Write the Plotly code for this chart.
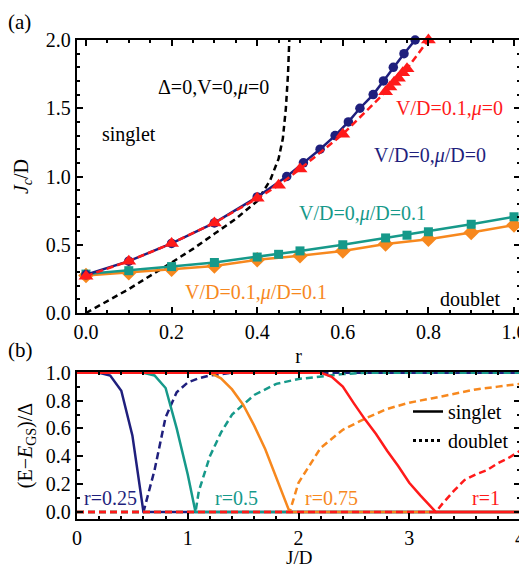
import plotly.graph_objects as go

# ---------------- Panel (a) data ----------------
r_navy = [0.0, 0.1, 0.2, 0.3, 0.4, 0.469, 0.508, 0.547, 0.582, 0.613, 0.640, 0.671, 0.695, 0.718, 0.743, 0.769]
j_navy = [0.28, 0.38, 0.51, 0.66, 0.85, 1.0, 1.1, 1.2, 1.3, 1.4, 1.5, 1.6, 1.7, 1.8, 1.9, 2.0]

r_red = [0.0, 0.1, 0.2, 0.3, 0.4, 0.45, 0.5, 0.6, 0.70, 0.71, 0.72, 0.73, 0.74, 0.75, 0.8]
j_red = [0.27, 0.38, 0.51, 0.66, 0.84, 0.935, 1.055, 1.31, 1.62, 1.655, 1.69, 1.72, 1.76, 1.79, 2.0]

r_teal = [0.0, 0.1, 0.2, 0.3, 0.4, 0.45, 0.5, 0.6, 0.7, 0.75, 0.8, 0.9, 1.0]
j_teal = [0.285, 0.31, 0.34, 0.37, 0.41, 0.43, 0.455, 0.5, 0.55, 0.57, 0.595, 0.65, 0.705]

r_orange = [0.0, 0.1, 0.2, 0.3, 0.4, 0.5, 0.6, 0.7, 0.8, 0.9, 1.0]
j_orange = [0.275, 0.295, 0.32, 0.345, 0.39, 0.42, 0.455, 0.505, 0.54, 0.59, 0.645]

r_black = [0.0, 0.1, 0.2, 0.25, 0.3, 0.35, 0.4, 0.43, 0.45, 0.46, 0.467, 0.472, 0.475]
j_black = [0.0, 0.175, 0.37, 0.47, 0.58, 0.69, 0.82, 0.97, 1.13, 1.28, 1.5, 1.75, 2.0]

# ---------------- Panel (b) data ----------------
jb_navy_s = [0, 0.1, 0.2, 0.3, 0.4, 0.5, 0.6, 4.0]
eb_navy_s = [1, 1, 1, 0.98, 0.87, 0.55, 0, 0]
jb_navy_d = [0, 0.6, 0.7, 0.8, 0.9, 1.0, 1.1, 1.2, 1.4, 4.0]
eb_navy_d = [0, 0, 0.3, 0.68, 0.86, 0.93, 0.96, 0.98, 1.0, 1.0]

jb_teal_s = [0, 0.6, 0.7, 0.8, 0.9, 1.0, 1.07, 4.0]
eb_teal_s = [1, 1, 0.98, 0.89, 0.6, 0.27, 0, 0]
jb_teal_d = [0, 1.07, 1.1, 1.2, 1.3, 1.4, 1.6, 1.8, 2.0, 2.2, 2.4, 2.6, 4.0]
eb_teal_d = [0, 0, 0.15, 0.4, 0.57, 0.7, 0.84, 0.92, 0.955, 0.975, 0.99, 1.0, 1.0]

jb_orange_s = [0, 1.2, 1.3, 1.4, 1.5, 1.6, 1.7, 1.8, 1.92, 4.0]
eb_orange_s = [1, 1, 0.96, 0.88, 0.77, 0.62, 0.45, 0.25, 0, 0]
jb_orange_d = [0, 1.92, 2.0, 2.2, 2.4, 2.6, 2.8, 3.0, 3.2, 3.4, 3.6, 3.8, 4.0]
eb_orange_d = [0, 0, 0.21, 0.46, 0.59, 0.67, 0.74, 0.785, 0.815, 0.85, 0.88, 0.9, 0.92]

jb_red_s = [0, 2.2, 2.3, 2.4, 2.5, 2.6, 2.7, 2.8, 2.9, 3.0, 3.1, 3.24, 4.0]
eb_red_s = [1, 1, 0.97, 0.9, 0.78, 0.665, 0.56, 0.44, 0.33, 0.21, 0.12, 0, 0]
jb_red_d = [0, 3.24, 3.3, 3.4, 3.5, 3.6, 3.7, 3.8, 3.9, 4.0]
eb_red_d = [0, 0, 0.06, 0.15, 0.23, 0.27, 0.30, 0.35, 0.39, 0.44]

NAVY = "#1f1f7d"
RED = "#ff1a1a"
TEAL = "#16998a"
ORANGE = "#f7881e"
FONT = "Liberation Serif, Times New Roman, Times, serif"
DASH = "7px,4px"

# page offset (body margin) compensation
OFF = 8
W, H = 527 - OFF, 569 - OFF
L, R, T, B = 77 - OFF, 7, 40 - OFF, 50
PW, PH = W - L - R, H - T - B

fig = go.Figure()

# Panel (a)
fig.add_trace(go.Scatter(x=r_black, y=j_black, mode="lines", line=dict(color="black", width=2.5, dash="6px,4px"),
                         showlegend=False, xaxis="x", yaxis="y"))
fig.add_trace(go.Scatter(x=r_orange, y=j_orange, mode="lines+markers", line=dict(color=ORANGE, width=2.5),
                         marker=dict(symbol="diamond", size=12, color=ORANGE), showlegend=False, cliponaxis=False))
fig.add_trace(go.Scatter(x=r_teal, y=j_teal, mode="lines+markers", line=dict(color=TEAL, width=2.5),
                         marker=dict(symbol="square", size=9, color=TEAL), showlegend=False, cliponaxis=False))
fig.add_trace(go.Scatter(x=r_navy, y=j_navy, mode="lines+markers", line=dict(color=NAVY, width=2.5),
                         marker=dict(symbol="circle", size=9.5, color=NAVY), showlegend=False, cliponaxis=False))
fig.add_trace(go.Scatter(x=r_red, y=j_red, mode="lines+markers", line=dict(color=RED, width=2.5, dash=DASH),
                         marker=dict(symbol="triangle-up", size=13, color=RED), showlegend=False, cliponaxis=False))

# Panel (b)
for xs, ys, col, dash in [
    (jb_navy_s, eb_navy_s, NAVY, "solid"), (jb_navy_d, eb_navy_d, NAVY, DASH),
    (jb_teal_s, eb_teal_s, TEAL, "solid"), (jb_teal_d, eb_teal_d, TEAL, DASH),
    (jb_orange_s, eb_orange_s, ORANGE, "solid"), (jb_orange_d, eb_orange_d, ORANGE, DASH),
    (jb_red_s, eb_red_s, RED, "solid"), (jb_red_d, eb_red_d, RED, DASH),
]:
    fig.add_trace(go.Scatter(x=xs, y=ys, mode="lines", line=dict(color=col, width=2.5, dash=dash),
                             showlegend=False, xaxis="x2", yaxis="y2"))

# legend entries
fig.add_trace(go.Scatter(x=[None], y=[None], mode="lines", name="singlet",
                         line=dict(color="black", width=2.5), xaxis="x2", yaxis="y2"))
fig.add_trace(go.Scatter(x=[None], y=[None], mode="lines", name="doublet",
                         line=dict(color="black", width=3, dash="3px,3px"), xaxis="x2", yaxis="y2"))

axis_common = dict(showline=True, linecolor="black", linewidth=2.3, mirror="ticks", ticks="inside",
                   ticklen=6, tickwidth=1.5, tickcolor="black", showgrid=False, zeroline=False,
                   tickfont=dict(family=FONT, size=20, color="black"))

a_bottom = 1 - (313 - 40) / PH
b_top = 1 - (372 - 40) / PH

fig.update_layout(
    width=W, height=H,
    margin=dict(l=L, r=R, t=T, b=B, autoexpand=False),
    paper_bgcolor="white", plot_bgcolor="white",
    font=dict(family=FONT, size=20, color="black"),
    xaxis=dict(domain=[0, 1], range=[-0.021, 1.014], anchor="y", dtick=0.2, tick0=0, tickformat=".1f",
               minor=dict(dtick=0.05, ticks="inside", ticklen=3, tickcolor="black"),
               title=dict(text="r", standoff=7, font=dict(family=FONT, size=20)), **axis_common),
    yaxis=dict(domain=[a_bottom, 1], range=[0, 2.0], anchor="x", dtick=0.5, tick0=0, tickformat=".1f",
               minor=dict(dtick=0.1, ticks="inside", ticklen=3, tickcolor="black"),
               title=dict(text="<i>J<sub>c</sub></i>/D", standoff=12, font=dict(family=FONT, size=20)), **axis_common),
    xaxis2=dict(domain=[0, 1], range=[0, 4], anchor="y2", dtick=1, tick0=0,
                minor=dict(dtick=0.2, ticks="inside", ticklen=3, tickcolor="black"),
                **axis_common),
    yaxis2=dict(domain=[0, b_top], range=[-0.05, 1.005], anchor="x2", dtick=0.2, tick0=0, tickformat=".1f",
                minor=dict(dtick=0.1, ticks="inside", ticklen=3, tickcolor="black"),
                title=dict(text="(E−<i>E</i><sub>GS</sub>)/Δ", standoff=8, font=dict(family=FONT, size=20)), **axis_common),
    legend=dict(x=(408 - 77) / PW, y=1 - (392 - 40) / PH, xanchor="left", yanchor="top", bgcolor="rgba(0,0,0,0)",
                font=dict(family=FONT, size=20, color="black"), tracegroupgap=0, itemwidth=30),
)

annots = [
    dict(x=0.297, y=1.65, text="Δ=0,V=0,<i>μ</i>=0", color="black", xref="x", yref="y"),
    dict(x=0.1, y=1.31, text="singlet", color="black", xref="x", yref="y"),
    dict(x=0.849, y=1.5, text="V/D=0.1,<i>μ</i>=0", color=RED, xref="x", yref="y"),
    dict(x=0.804, y=1.155, text="V/D=0,<i>μ</i>/D=0", color=NAVY, xref="x", yref="y"),
    dict(x=0.646, y=0.728, text="V/D=0,<i>μ</i>/D=0.1", color=TEAL, xref="x", yref="y"),
    dict(x=0.397, y=0.147, text="V/D=0.1,<i>μ</i>/D=0.1", color=ORANGE, xref="x", yref="y"),
    dict(x=0.897, y=0.103, text="doublet", color="black", xref="x", yref="y"),
    dict(x=0.3, y=0.1, text="r=0.25", color=NAVY, xref="x2", yref="y2"),
    dict(x=1.44, y=0.1, text="r=0.5", color=TEAL, xref="x2", yref="y2"),
    dict(x=2.3, y=0.1, text="r=0.75", color=ORANGE, xref="x2", yref="y2"),
    dict(x=3.69, y=0.1, text="r=1", color=RED, xref="x2", yref="y2"),
]
for a in annots:
    fig.add_annotation(x=a["x"], y=a["y"], xref=a["xref"], yref=a["yref"], text=a["text"], showarrow=False,
                       font=dict(family=FONT, size=20, color=a["color"]), xanchor="center", yanchor="middle")

# x-axis title of panel (b), placed just below the tick labels
fig.add_annotation(x=0.5, y=1 - (569 - 40) / PH, xref="paper", yref="paper", text="J/D", showarrow=False,
                   xanchor="center", yanchor="bottom", borderpad=0,
                   font=dict(family=FONT, size=19, color="black"))

for lab, py in [("(a)", 22), ("(b)", 350)]:
    fig.add_annotation(x=-L / PW, y=1 - (py - 40) / PH, xref="paper", yref="paper", text=lab,
                       showarrow=False, xanchor="left", yanchor="middle", xshift=-2,
                       font=dict(family=FONT, size=21, color="black"))

fig.write_html("out.html")
